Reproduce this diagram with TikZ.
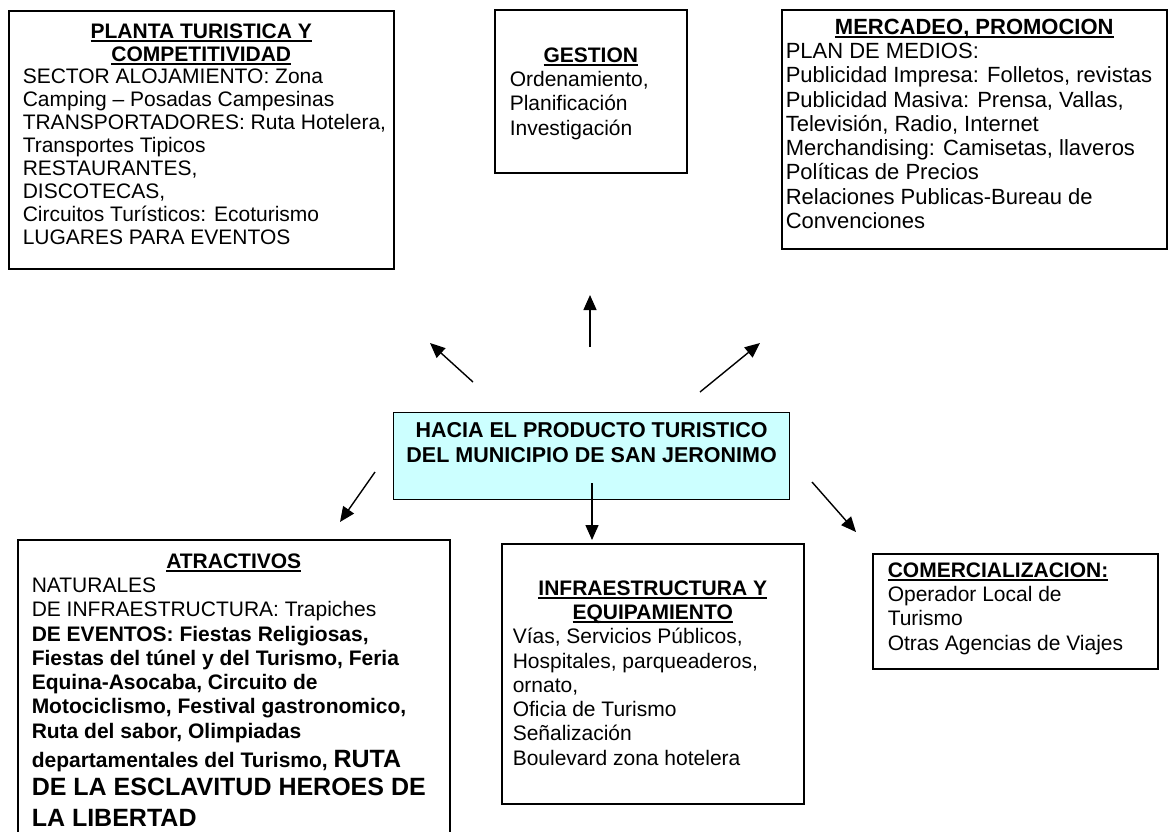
\documentclass[tikz,border=0pt]{standalone}
\usepackage{fontspec}
\setmainfont{Liberation Sans}
\usetikzlibrary{arrows.meta}
\definecolor{celeste}{HTML}{CCFFFF}
\newcommand{\subrayado}[1]{\leavevmode\setbox0=\hbox{\textbf{#1}}\rlap{\rule[-3.6pt]{\wd0}{1.6pt}}\box0}

\begin{document}
\begin{tikzpicture}[x=1pt,y=-1pt,
	caja/.style={draw,line width=1.5pt,anchor=north west,inner sep=0pt,font=\fontsize{21}{24.3}\selectfont},
	flecha/.style={-{Triangle[length=15pt,width=13pt]},line width=1.4pt}]

	\useasboundingbox (0,0) rectangle (1174,831);

	\node[caja,font=\fontsize{21}{22.9}\selectfont] (planta) at (8,10) {\parbox[c][258pt][t]{385pt}{\vspace*{12.7pt}\centering
		\subrayado{PLANTA TURISTICA Y}\\ \subrayado{COMPETITIVIDAD}\par
		\raggedright\leftskip=14pt
		SECTOR ALOJAMIENTO: Zona\\ Camping – Posadas Campesinas\\ TRANSPORTADORES: Ruta Hotelera,\\ Transportes Tipicos\\
		RESTAURANTES,\\ DISCOTECAS,\\ Circuitos Turísticos: Ecoturismo\\ LUGARES PARA EVENTOS}};

	\node[caja] (gestion) at (494,9) {\parbox[c][163pt][t]{192pt}{\vspace*{37.7pt}\centering
		\subrayado{GESTION}\par
		\raggedright\leftskip=15pt
		Ordenamiento,\\ Planificación\\ Investigación}};

	\node[caja,font=\fontsize{22}{24.3}\selectfont] (mercadeo) at (781,9) {\parbox[c][239pt][t]{385pt}{\vspace*{9pt}\centering
		\subrayado{MERCADEO, PROMOCION}\par
		\raggedright\leftskip=4pt
		PLAN DE MEDIOS:\\ Publicidad Impresa: Folletos, revistas\\ Publicidad Masiva: Prensa, Vallas,\\ Televisión, Radio, Internet\\
		Merchandising: Camisetas, llaveros\\ Políticas de Precios\\ Relaciones Publicas-Bureau de\\ Convenciones}};

	\node[caja,fill=celeste,line width=1.2pt] (centro) at (393,412) {\parbox[c][87pt][t]{396pt}{\vspace*{9.5pt}\centering\bfseries\fontsize{21.5}{25.4}\selectfont
		HACIA EL PRODUCTO TURISTICO\\ DEL MUNICIPIO DE SAN JERONIMO}};

	\node[caja] (atractivos) at (17,539) {\parbox[c][330pt][t]{432pt}{\vspace*{13.7pt}\centering
		\subrayado{ATRACTIVOS}\par
		\raggedright\leftskip=14pt
		NATURALES\\ DE INFRAESTRUCTURA: Trapiches\\
		\textbf{DE EVENTOS: Fiestas Religiosas,}\\ \textbf{Fiestas del túnel y del Turismo, Feria}\\
		\textbf{Equina-Asocaba, Circuito de}\\ \textbf{Motociclismo, Festival gastronomico,}\\
		\textbf{Ruta del sabor, Olimpiadas}\\[4.5pt]
		\textbf{departamentales del Turismo, {\fontsize{25}{29}\selectfont RUTA}}\\[4.5pt]
		{\fontsize{25}{29}\selectfont\bfseries DE LA ESCLAVITUD HEROES DE}\\[6.5pt]
		{\fontsize{25}{29}\selectfont\bfseries LA LIBERTAD}}};

	\node[caja] (infra) at (501,543) {\parbox[c][260pt][t]{302pt}{\vspace*{36.7pt}\centering
		\subrayado{INFRAESTRUCTURA Y}\\ \subrayado{EQUIPAMIENTO}\par
		\raggedright\leftskip=11pt
		Vías, Servicios Públicos,\\ Hospitales, parqueaderos,\\ ornato,\\ Oficia de Turismo\\ Señalización\\ Boulevard zona hotelera}};

	\node[caja] (comercial) at (872,553) {\parbox[c][115pt][t]{285pt}{\vspace*{8.7pt}\raggedright\leftskip=15pt
		\subrayado{COMERCIALIZACION:}\\ Operador Local de\\ Turismo\\ Otras Agencias de Viajes}};

	% flechas que salen del producto
	\coordinate (desdePlanta) at (473,382);
	\coordinate (hastaPlanta) at (430,343);
	\coordinate (desdeGestion) at (590,347);
	\coordinate (hastaGestion) at (590,295);
	\coordinate (desdeMercadeo) at (700,392);
	\coordinate (hastaMercadeo) at (760,343);
	\coordinate (desdeAtractivos) at (375,472);
	\coordinate (hastaAtractivos) at (340,522);
	\coordinate (desdeInfra) at (592,483);
	\coordinate (hastaInfra) at (592,540);
	\coordinate (desdeComercial) at (812,482);
	\coordinate (hastaComercial) at (856,532);

	\path[flecha] (desdePlanta) edge (hastaPlanta);
	\path[flecha] (desdeGestion) edge (hastaGestion);
	\path[flecha] (desdeMercadeo) edge (hastaMercadeo);
	\path[flecha] (desdeAtractivos) edge (hastaAtractivos);
	\path[flecha] (desdeInfra) edge (hastaInfra);
	\path[flecha] (desdeComercial) edge (hastaComercial);

\end{tikzpicture}
\end{document}
